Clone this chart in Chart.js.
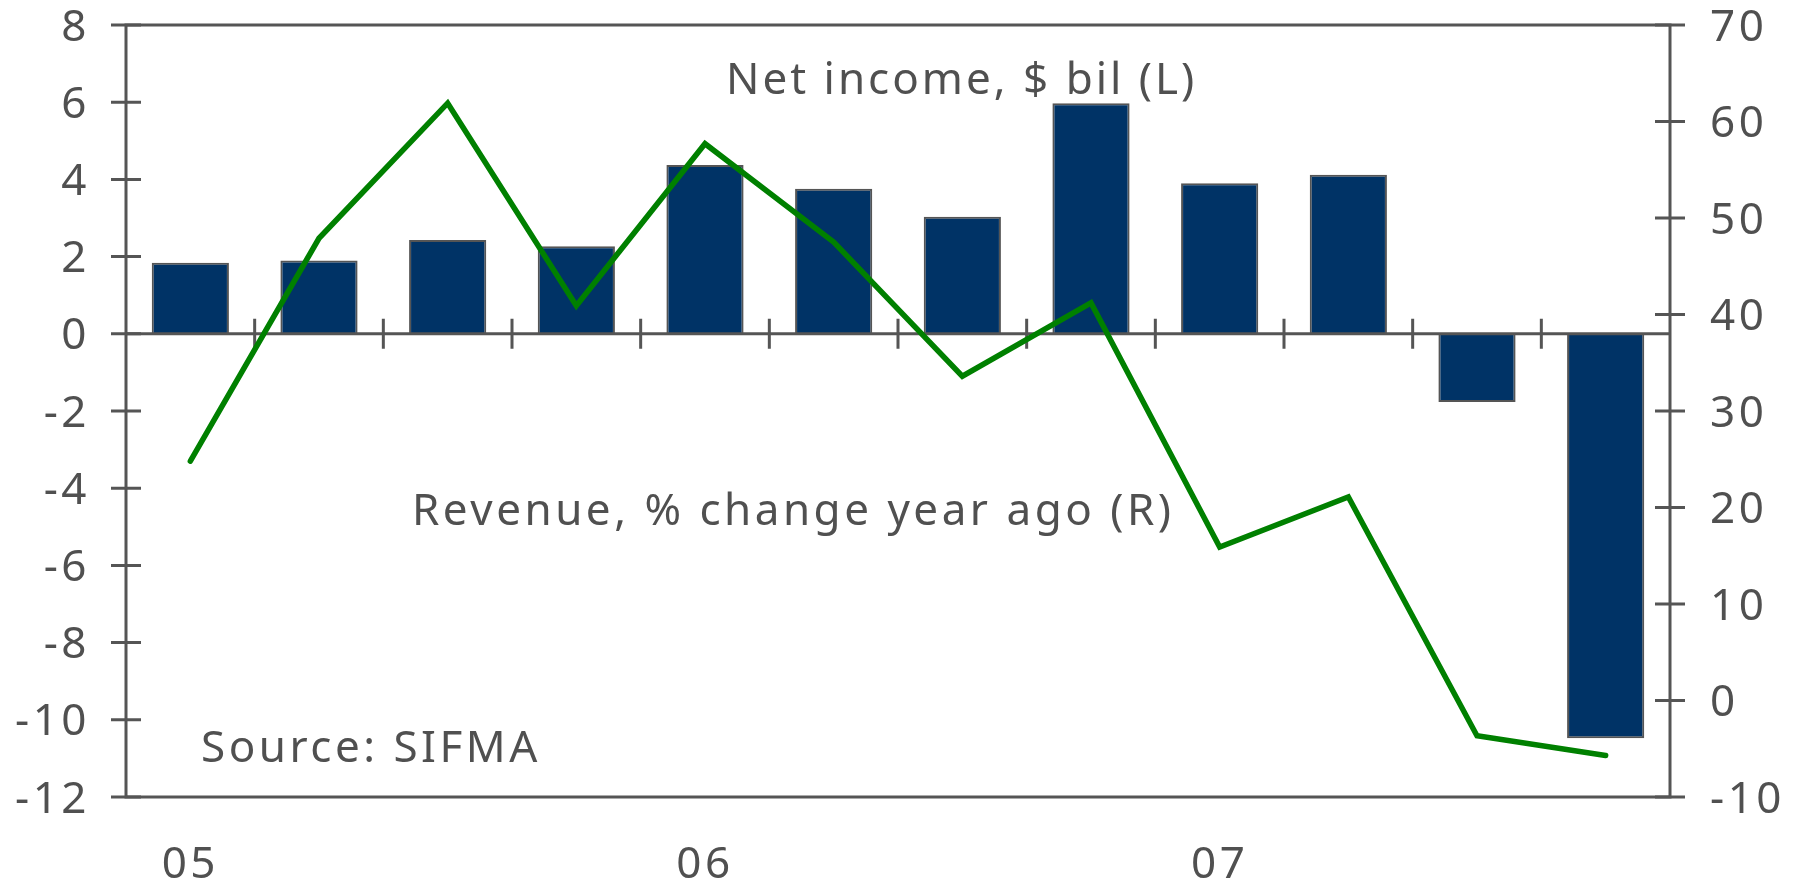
<!DOCTYPE html>
<html>
<head>
<meta charset="utf-8">
<script src="https://cdn.jsdelivr.net/npm/chart.js@4/dist/chart.umd.min.js"></script>
<style>
  html, body { margin: 0; padding: 0; background: #fff; }
  canvas { display: block; }
</style>
</head>
<body>
<canvas id="chart" width="1803" height="885"></canvas>
<script>
// quarters 2005 Q1 .. 2007 Q4
var categories = ['05 Q1', '05 Q2', '05 Q3', '05 Q4', '06 Q1', '06 Q2', '06 Q3', '06 Q4', '07 Q1', '07 Q2', '07 Q3', '07 Q4'];
var xTickLabels = ['05', '', '', '', '06', '', '', '', '07', '', '', ''];
var netIncome = [1.84, 1.9, 2.43, 2.27, 4.37, 3.76, 3.03, 5.97, 3.9, 4.12, -1.77, -10.48];
var revenueChange = [24.8, 47.9, 61.9, 40.9, 57.7, 47.5, 33.6, 41.2, 15.9, 21.1, -3.65, -5.7];

var axisColor = '#555555';
var textColor = '#505050';
var fontFamily = '"Noto Sans", "Open Sans", sans-serif';
var spacing = '3.5px';

// frame, zero line with quarter ticks, crossing axis ticks, labels
var decorations = {
    id: 'decorations',
    beforeLayout: function(chart) { chart.ctx.letterSpacing = spacing; },
    beforeDraw: function(chart) { chart.ctx.letterSpacing = spacing; },
    afterDatasetDraw: function(chart, args) {
        if (args.meta.type !== 'bar') return;
        var ctx = chart.ctx;
        var area = chart.chartArea;
        var x = chart.scales.x;
        var y0 = chart.scales.y.getPixelForValue(0);
        ctx.save();
        ctx.strokeStyle = axisColor;
        ctx.lineWidth = 3;
        ctx.beginPath();
        ctx.moveTo(area.left, y0);
        ctx.lineTo(area.right, y0);
        for (var i = 1; i < categories.length; i++) {
            var bx = (x.getPixelForValue(i - 1) + x.getPixelForValue(i)) / 2;
            ctx.moveTo(bx, y0 - 15);
            ctx.lineTo(bx, y0 + 15);
        }
        ctx.stroke();
        ctx.restore();
    },
    afterDraw: function(chart) {
        var ctx = chart.ctx;
        var area = chart.chartArea;
        ctx.save();
        ctx.strokeStyle = axisColor;
        ctx.lineWidth = 3;
        ctx.strokeRect(area.left, area.top, area.right - area.left, area.bottom - area.top);
        ctx.beginPath();
        [chart.scales.y, chart.scales.y2].forEach(function(s) {
            var ax = s.position === 'left' ? area.left : area.right;
            s.ticks.forEach(function(t) {
                var py = s.getPixelForValue(t.value);
                ctx.moveTo(ax - 15, py);
                ctx.lineTo(ax + 15, py);
            });
        });
        ctx.stroke();

        ctx.fillStyle = textColor;
        ctx.textAlign = 'left';
        ctx.textBaseline = 'alphabetic';
        ctx.font = '44px ' + fontFamily;
        ctx.letterSpacing = '3px';
        ctx.fillText('Net income, $ bil (L)', 726, 94);
        ctx.letterSpacing = spacing;
        ctx.fillText('Revenue, % change year ago (R)', 412, 525);
        ctx.fillText('Source: SIFMA', 201, 762);
        ctx.restore();
    }
};

function fitY(width) {
    return function(s) {
        s.width = width;
        s.paddingTop = 0;
        s.paddingBottom = 0;
    };
}

var ctx = document.getElementById('chart').getContext('2d');
var chart = new Chart(ctx, {
    data: {
        labels: categories,
        datasets: [
            {
                type: 'line',
                label: 'Revenue, % change year ago (R)',
                data: revenueChange,
                yAxisID: 'y2',
                borderColor: '#008000',
                borderWidth: 5.5,
                borderCapStyle: 'round',
                pointRadius: 0,
                tension: 0,
                fill: false,
                order: 0
            },
            {
                type: 'bar',
                label: 'Net income, $ bil (L)',
                data: netIncome,
                yAxisID: 'y',
                backgroundColor: '#003366',
                borderColor: '#555555',
                borderWidth: 2,
                barPercentage: 0.6,
                categoryPercentage: 1.0,
                order: 1
            }
        ]
    },
    options: {
        responsive: false,
        animation: false,
        devicePixelRatio: 1,
        layout: { padding: { top: 25, left: 0, right: 0, bottom: 0 } },
        plugins: {
            legend: { display: false },
            tooltip: { enabled: false }
        },
        scales: {
            x: {
                type: 'category',
                offset: true,
                grid: { display: false, drawTicks: false },
                border: { display: false },
                afterFit: function(s) {
                    s.height = 88;
                    s.paddingLeft = 0;
                    s.paddingRight = 0;
                },
                ticks: {
                    autoSkip: false,
                    maxRotation: 0,
                    padding: 42,
                    color: textColor,
                    font: { family: fontFamily, size: 44 },
                    callback: function(v, i) { return xTickLabels[i]; }
                }
            },
            y: {
                position: 'left',
                min: -12,
                max: 8,
                grid: { display: false, drawTicks: false },
                border: { display: false },
                afterFit: fitY(126),
                ticks: {
                    stepSize: 2,
                    padding: 36,
                    labelOffset: 3,
                    color: textColor,
                    font: { family: fontFamily, size: 44 }
                }
            },
            y2: {
                position: 'right',
                min: -10,
                max: 70,
                grid: { display: false, drawTicks: false },
                border: { display: false },
                afterFit: fitY(133),
                ticks: {
                    stepSize: 10,
                    padding: 40,
                    labelOffset: 3,
                    color: textColor,
                    font: { family: fontFamily, size: 44 }
                }
            }
        }
    },
    plugins: [decorations]
});
</script>
</body>
</html>
